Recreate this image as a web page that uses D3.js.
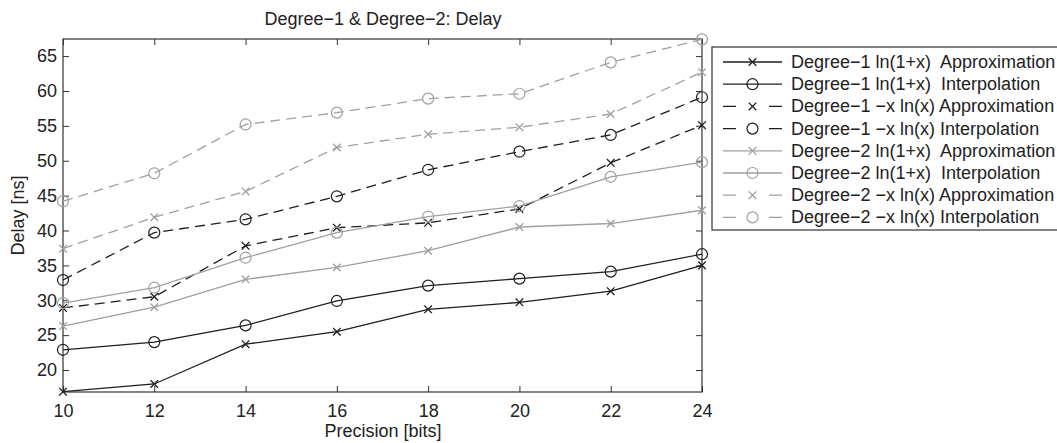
<!DOCTYPE html>
<html><head><meta charset="utf-8">
<script src="https://cdn.jsdelivr.net/npm/d3@7"></script>
<style>
body{margin:0;background:#fff;}
text{font-family:"Liberation Sans",Arial,Helvetica,sans-serif;fill:#222;white-space:pre;}
</style></head>
<body>
<svg id="c" width="1057" height="443"></svg>
<script>
const precision = [10, 12, 14, 16, 18, 20, 22, 24];
const seriesNames = [
  "Degree\u22121 ln(1+x)  Approximation",
  "Degree\u22121 ln(1+x)  Interpolation",
  "Degree\u22121 \u2212x ln(x) Approximation",
  "Degree\u22121 \u2212x ln(x) Interpolation",
  "Degree\u22122 ln(1+x)  Approximation",
  "Degree\u22122 ln(1+x)  Interpolation",
  "Degree\u22122 \u2212x ln(x) Approximation",
  "Degree\u22122 \u2212x ln(x) Interpolation"
];
const d1LnApprox  = [16.9, 18.0, 23.7, 25.5, 28.7, 29.7, 31.3, 35.0];
const d1LnInterp  = [22.9, 24.0, 26.4, 29.9, 32.1, 33.1, 34.1, 36.6];
const d1XlnApprox = [28.9, 30.5, 37.8, 40.4, 41.1, 43.1, 49.7, 55.1];
const d1XlnInterp = [32.9, 39.7, 41.6, 44.9, 48.7, 51.3, 53.7, 59.1];
const d2LnApprox  = [26.3, 29.0, 33.0, 34.7, 37.1, 40.5, 41.0, 42.9];
const d2LnInterp  = [29.6, 31.8, 36.1, 39.7, 42.0, 43.5, 47.7, 49.8];
const d2XlnApprox = [37.4, 41.9, 45.6, 51.9, 53.8, 54.8, 56.7, 62.7];
const d2XlnInterp = [44.2, 48.2, 55.2, 56.9, 58.9, 59.6, 64.1, 67.4];
const yTicks = [20, 25, 30, 35, 40, 45, 50, 55, 60, 65];
const xTicks = [10, 12, 14, 16, 18, 20, 22, 24];

const allSeries = [d1LnApprox, d1LnInterp, d1XlnApprox, d1XlnInterp, d2LnApprox, d2LnInterp, d2XlnApprox, d2XlnInterp];
const styles = [
  {c:"#1e1e1e", dash:null, m:"x"},
  {c:"#1e1e1e", dash:null, m:"o"},
  {c:"#1e1e1e", dash:"10,6", m:"x"},
  {c:"#1e1e1e", dash:"10,6", m:"o"},
  {c:"#a0a0a0", dash:null, m:"x"},
  {c:"#a0a0a0", dash:null, m:"o"},
  {c:"#a0a0a0", dash:"10,6", m:"x"},
  {c:"#a0a0a0", dash:"10,6", m:"o"}
];

const svg = d3.select("#c");
const L = 63, R = 702, T = 39, B = 392;
const x = d3.scaleLinear().domain([10, 24]).range([L, R]);
const y = d3.scaleLinear().domain([16.85, 67.45]).range([B, T]);

svg.append("rect").attr("x", L).attr("y", T).attr("width", R-L).attr("height", B-T)
  .attr("fill", "none").attr("stroke", "#333").attr("stroke-width", 1.2);

const gx = svg.append("g").attr("transform", `translate(0,${B})`)
  .call(d3.axisBottom(x).tickValues(xTicks).tickSize(-6).tickPadding(12).tickFormat(d3.format("d")));
const gxt = svg.append("g").attr("transform", `translate(0,${T})`)
  .call(d3.axisTop(x).tickValues(xTicks).tickSize(-6).tickFormat(""));
const gy = svg.append("g").attr("transform", `translate(${L},0)`)
  .call(d3.axisLeft(y).tickValues(yTicks).tickSize(-6).tickPadding(6).tickFormat(d3.format("d")));
const gyr = svg.append("g").attr("transform", `translate(${R},0)`)
  .call(d3.axisRight(y).tickValues(yTicks).tickSize(-6).tickFormat(""));
[gx, gxt, gy, gyr].forEach(g => {
  g.attr("font-size", 18).attr("font-family", "'Liberation Sans',Arial,sans-serif");
  g.select(".domain").remove();
  g.selectAll(".tick line").attr("stroke", "#333");
  g.selectAll(".tick text").attr("fill", "#222");
});

const line = d3.line().x((d, i) => x(precision[i])).y(d => y(d));

function marker(g, m, cx, cy, col) {
  if (m === "o") {
    g.append("circle").attr("cx", cx).attr("cy", cy).attr("r", 5.5)
      .attr("fill", "none").attr("stroke", col).attr("stroke-width", 1.2);
  } else {
    const s = 3.8;
    g.append("path").attr("d", `M${cx-s},${cy-s}L${cx+s},${cy+s}M${cx-s},${cy+s}L${cx+s},${cy-s}`)
      .attr("stroke", col).attr("stroke-width", 1.3).attr("fill", "none");
  }
}

allSeries.forEach((vals, si) => {
  const st = styles[si];
  const g = svg.append("g");
  g.append("path").datum(vals).attr("d", line).attr("fill", "none")
    .attr("stroke", st.c).attr("stroke-width", 1.3)
    .attr("stroke-dasharray", st.dash);
  vals.forEach((v, i) => marker(g, st.m, x(precision[i]), y(v), st.c));
});

svg.append("text").attr("x", 383).attr("y", 25).attr("text-anchor", "middle")
  .attr("font-size", 18).text("Degree\u22121 & Degree\u22122: Delay");
svg.append("text").attr("x", 383).attr("y", 437).attr("text-anchor", "middle")
  .attr("font-size", 18).text("Precision [bits]");
svg.append("text").attr("transform", `translate(24,${(T+B)/2}) rotate(-90)`).attr("text-anchor", "middle")
  .attr("font-size", 18).text("Delay [ns]");

const lg = svg.append("g");
lg.append("rect").attr("x", 712).attr("y", 47).attr("width", 360).attr("height", 183)
  .attr("fill", "#fff").attr("stroke", "#333").attr("stroke-width", 1.2);
seriesNames.forEach((name, i) => {
  const ly = 62 + i * 22.2;
  const st = styles[i];
  lg.append("line").attr("x1", 723).attr("x2", 782).attr("y1", ly).attr("y2", ly)
    .attr("stroke", st.c).attr("stroke-width", 1.3)
    .attr("stroke-dasharray", st.dash ? "13,33" : null);
  marker(lg, st.m, 752.5, ly, st.c);
  lg.append("text").attr("x", 791).attr("y", ly + 6).attr("font-size", 18).text(name);
});
</script>
</body></html>
